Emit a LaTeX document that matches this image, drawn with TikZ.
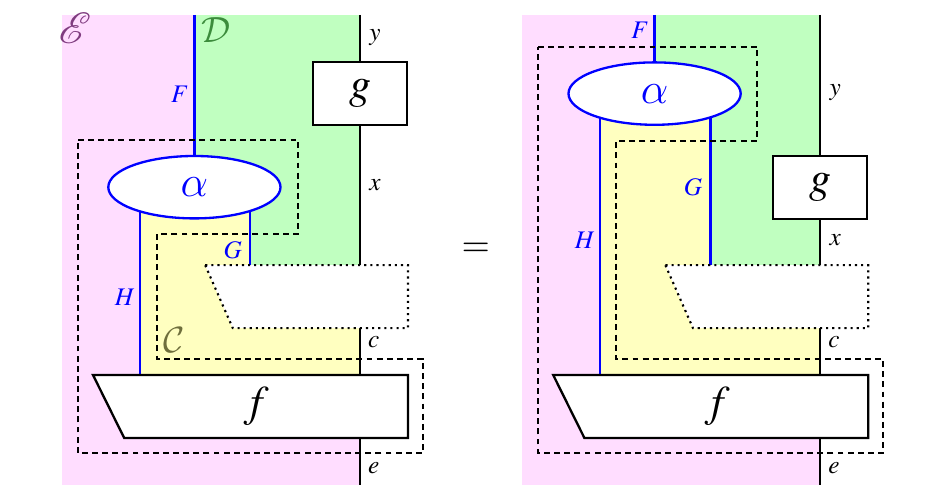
\documentclass[tikz,border=0pt]{standalone}
\usepackage{amsmath}
\usepackage{mathptmx}
\usepackage{mathrsfs}
\usepackage{tikz}
\usetikzlibrary{shapes.geometric,backgrounds}

\DeclareMathAlphabet{\mathcal}{OMS}{cmsy}{m}{n}
\DeclareSymbolFont{cmletters}{OML}{cmm}{m}{it}
\DeclareMathSymbol{\calpha}{\mathord}{cmletters}{"0B}

\definecolor{pinkE}{RGB}{255,221,255}
\definecolor{greenD}{RGB}{192,255,192}
\definecolor{yellowC}{RGB}{255,255,192}
\definecolor{labE}{RGB}{128,60,128}
\definecolor{labD}{RGB}{60,140,60}
\definecolor{labC}{RGB}{110,110,60}

\tikzset{
  wire/.style={black, line width=1.1pt},
  bwire/.style={blue, line width=1.1pt},
  cellbox/.style={draw=black, line width=1.1pt, fill=white, minimum width=1.57cm, minimum height=1.05cm, inner sep=0pt},
  nat/.style={ellipse, draw=blue, line width=1.1pt, fill=white, text=blue, minimum width=2.87cm, minimum height=1.04cm, inner sep=0pt},
  frame/.style={black, line width=1pt, dash pattern=on 2.8pt off 2pt},
  hole/.style={black, line width=1pt, dash pattern=on 1pt off 1.9pt, fill=white},
  lab/.style={font=\large},
}

\begin{document}
\begin{tikzpicture}
\useasboundingbox (0,0) rectangle (15.5,8.35);

% left side
\node[nat] (alphaL) at (3.24,5.23) {\huge$\calpha$};
\node[cellbox] (gL) at (6,6.79) {\huge$g$};
\draw[hole] (3.42,3.93) coordinate (holeLa) -- (6.8,3.93) -- (6.8,2.88) -- (3.88,2.88) coordinate (holeLb) -- cycle;
\draw[line width=1.1pt, fill=white] (1.55,2.10) -- (6.8,2.10) -- (6.8,1.05) -- (2.07,1.05) -- cycle;
\node (fL) at (4.28,1.57) {\huge$f$};
\draw[frame] (1.30,6.02) -- (4.97,6.02) -- (4.97,4.45) -- (2.62,4.45) -- (2.62,2.37) -- (7.05,2.37) -- (7.05,0.80) -- (1.30,0.80) -- cycle;
\coordinate (yL) at (6,8.10);
\coordinate (xL) at (6,3.93);
\coordinate (cL) at (6,2.88);
\coordinate (fLt) at (6,2.10);
\coordinate (fLb) at (6,1.05);
\coordinate (eL) at (6,0.27);
\coordinate (FL) at (3.24,8.10);
\coordinate (HL) at (2.33,2.10);
\coordinate (GL) at (4.17,3.93);
\begin{pgfonlayer}{background}
\fill[pinkE] (1.03,8.10) rectangle (eL);
\fill[greenD] (FL) rectangle (xL);
\fill[yellowC] (HL |- alphaL.center) -- (GL |- alphaL.center) -- (GL) -- (holeLa) -- (holeLb) -- (cL) -- (fLt) -- (HL) -- cycle;
\draw[wire] (yL) -- (gL.north);
\draw[wire] (gL.south) -- (xL);
\draw[wire] (cL) -- (fLt);
\draw[wire] (fLb) -- (eL);
\draw[bwire] (FL) -- (alphaL.north);
\draw[bwire] (HL |- alphaL.center) -- (HL);
\draw[bwire] (GL |- alphaL.center) -- (GL);
\end{pgfonlayer}
\node[font=\huge, text=labE] (catEL) at (1.25,7.88) {$\mathscr{E}$};
\node[font=\LARGE, text=labD] (catDL) at (3.60,7.85) {$\mathcal{D}$};
\node[font=\LARGE, text=labC] (catCL) at (2.90,2.68) {$\mathcal{C}$};
\node[lab, text=blue] (labFL) at (3.00,6.77) {$F$};
\node[lab, text=blue] (labGL) at (3.88,4.18) {$G$};
\node[lab, text=blue] (labHL) at (2.08,3.40) {$H$};
\node[lab] (labyL) at (6.25,7.73) {$y$};
\node[lab] (labxL) at (6.25,5.27) {$x$};
\node[lab] (labcL) at (6.23,2.65) {$c$};
\node[lab] (labeL) at (6.23,0.55) {$e$};

\node[font=\LARGE] (eq) at (7.93,4.18) {$=$};

% right side
\begin{scope}[xshift=7.67cm]
\node[nat] (alphaR) at (3.24,6.79) {\huge$\calpha$};
\node[cellbox] (gR) at (6,5.23) {\huge$g$};
\draw[hole] (3.42,3.93) coordinate (holeRa) -- (6.8,3.93) -- (6.8,2.88) -- (3.88,2.88) coordinate (holeRb) -- cycle;
\draw[line width=1.1pt, fill=white] (1.55,2.10) -- (6.8,2.10) -- (6.8,1.05) -- (2.07,1.05) -- cycle;
\node (fR) at (4.28,1.57) {\huge$f$};
\draw[frame] (1.30,7.57) -- (4.95,7.57) -- (4.95,6.00) -- (2.60,6.00) -- (2.60,2.37) -- (7.05,2.37) -- (7.05,0.80) -- (1.30,0.80) -- cycle;
\coordinate (yR) at (6,8.10);
\coordinate (xR) at (6,3.93);
\coordinate (cR) at (6,2.88);
\coordinate (fRt) at (6,2.10);
\coordinate (fRb) at (6,1.05);
\coordinate (eR) at (6,0.27);
\coordinate (FR) at (3.24,8.10);
\coordinate (HR) at (2.33,2.10);
\coordinate (GR) at (4.17,3.93);
\begin{pgfonlayer}{background}
\fill[pinkE] (1.03,8.10) rectangle (eR);
\fill[greenD] (FR) rectangle (xR);
\fill[yellowC] (HR |- alphaR.center) -- (GR |- alphaR.center) -- (GR) -- (holeRa) -- (holeRb) -- (cR) -- (fRt) -- (HR) -- cycle;
\draw[wire] (yR) -- (gR.north);
\draw[wire] (gR.south) -- (xR);
\draw[wire] (cR) -- (fRt);
\draw[wire] (fRb) -- (eR);
\draw[bwire] (FR) -- (alphaR.north);
\draw[bwire] (HR |- alphaR.center) -- (HR);
\draw[bwire] (GR |- alphaR.center) -- (GR);
\end{pgfonlayer}
\node[lab, text=blue] (labFR) at (3.00,7.85) {$F$};
\node[lab, text=blue] (labGR) at (3.88,5.23) {$G$};
\node[lab, text=blue] (labHR) at (2.08,4.35) {$H$};
\node[lab] (labyR) at (6.25,6.80) {$y$};
\node[lab] (labxR) at (6.25,4.35) {$x$};
\node[lab] (labcR) at (6.23,2.65) {$c$};
\node[lab] (labeR) at (6.23,0.55) {$e$};
\end{scope}
\end{tikzpicture}
\end{document}
